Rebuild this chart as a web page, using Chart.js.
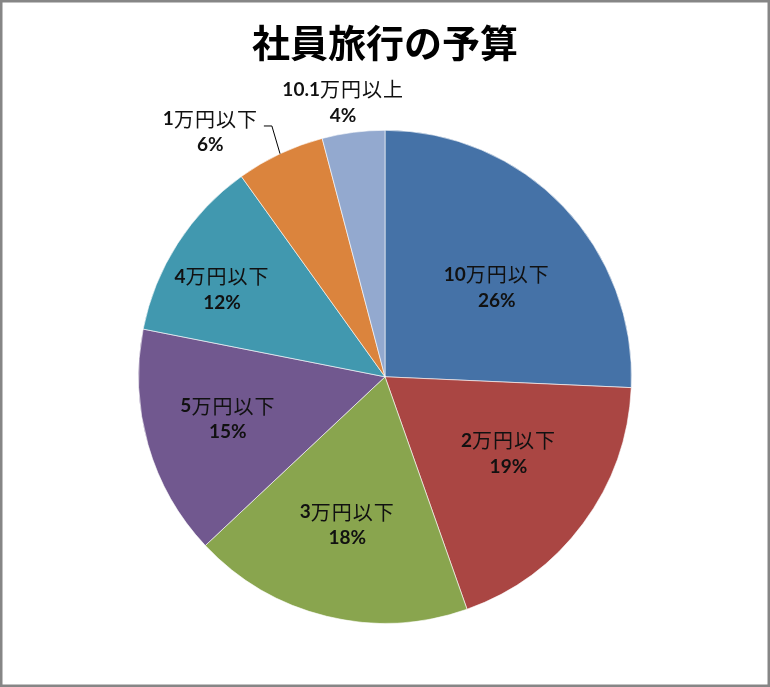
<!DOCTYPE html>
<html>
<head>
<meta charset="utf-8">
<title>社員旅行の予算</title>
<script src="https://cdn.jsdelivr.net/npm/chart.js@4"></script>
<style>
  html, body { margin: 0; padding: 0; background: #fff; }
  canvas { display: block; }
</style>
</head>
<body>
<canvas id="budget-chart" width="770" height="687"></canvas>
<script>
// Data (shares in %)
const chartTitle = '社員旅行の予算';
const categories = ['10万円以下', '2万円以下', '3万円以下', '5万円以下', '4万円以下', '1万円以下', '10.1万円以上'];
const budgetShares = [25.7, 18.9, 18.4, 15.1, 12.0, 5.8, 4.1];

// Styles (Excel 2007 palette)
const sliceColors = ['#4572A7', '#AA4643', '#89A54E', '#71588F', '#4198AF', '#DB843D', '#93A9CF'];
// Label placement: fraction of radius and angle shift (degrees) from slice middle
const labelRadius = [0.58, 0.59, 0.62, 0.66, 0.75, 1.22, 1.125];
const labelAngleShift = [5.2, -4.6, 0.6, 1.0, -4.6, -10.3, -1.3];
const labelLeader = [false, false, false, false, false, true, false];

const LATIN_FONT = 'bold 19px Lato, "Liberation Sans", sans-serif';
const CJK_FONT = '20px "Noto Sans CJK JP", sans-serif';
const CJK_GAP = 1;
const TEXT_COLOR = '#111111';

// Draw text mixing bold latin digits and regular CJK glyphs, centred on cx
function drawMixed(ctx, text, cx, cy) {
    const runs = text.match(/[\x00-\x7f]+|[^\x00-\x7f]+/g) || [];
    let total = 0;
    const parts = runs.map(r => {
        const ascii = /^[\x00-\x7f]/.test(r);
        ctx.font = ascii ? LATIN_FONT : CJK_FONT;
        let w = ctx.measureText(r).width;
        if (!ascii) w += r.length * CJK_GAP;
        total += w;
        return { r, ascii, w };
    });
    let x = cx - total / 2;
    ctx.textAlign = 'left';
    ctx.textBaseline = 'middle';
    parts.forEach(p => {
        ctx.font = p.ascii ? LATIN_FONT : CJK_FONT;
        if (p.ascii) {
            ctx.fillText(p.r, x, cy);
        } else {
            let cx2 = x;
            for (const ch of p.r) {
                ctx.fillText(ch, cx2, cy);
                cx2 += ctx.measureText(ch).width + CJK_GAP;
            }
        }
        x += p.w;
    });
    return total;
}

// Paint white background and the grey frame
const framePlugin = {
    id: 'frame',
    beforeDraw(chart) {
        const ctx = chart.ctx;
        ctx.save();
        ctx.fillStyle = '#ffffff';
        ctx.fillRect(0, 0, chart.width, chart.height);
        ctx.restore();
    },
    afterDraw(chart) {
        const ctx = chart.ctx;
        ctx.save();
        ctx.strokeStyle = '#868686';
        ctx.lineWidth = 2.5;
        ctx.strokeRect(1.25, 1.25, chart.width - 2.5, chart.height - 2.5);
        ctx.restore();
    }
};

// Data labels: category on first line, percentage on second
const sliceLabelPlugin = {
    id: 'sliceLabels',
    afterDatasetsDraw(chart) {
        const ctx = chart.ctx;
        const meta = chart.getDatasetMeta(0);
        const values = chart.data.datasets[0].data;
        const sum = values.reduce((a, b) => a + b, 0);
        ctx.save();
        ctx.fillStyle = TEXT_COLOR;
        meta.data.forEach((arc, i) => {
            const p = arc.getProps(['x', 'y', 'startAngle', 'endAngle', 'outerRadius'], true);
            const mid = (p.startAngle + p.endAngle) / 2;
            const ang = mid + labelAngleShift[i] * Math.PI / 180;
            const r = p.outerRadius * labelRadius[i];
            const lx = p.x + Math.cos(ang) * r;
            const ly = p.y + Math.sin(ang) * r;
            const pct = Math.round(values[i] / sum * 100) + '%';
            const w = drawMixed(ctx, chart.data.labels[i], lx, ly - 13);
            drawMixed(ctx, pct, lx, ly + 13);

            if (labelLeader[i]) {
                const ex = p.x + Math.cos(mid) * p.outerRadius;
                const ey = p.y + Math.sin(mid) * p.outerRadius;
                const endX = lx + w / 2 + 6;
                const endY = ly - 6;
                ctx.save();
                ctx.strokeStyle = '#000';
                ctx.lineWidth = 1;
                ctx.beginPath();
                ctx.moveTo(ex, ey);
                ctx.lineTo(endX + 8, endY);
                ctx.lineTo(endX, endY);
                ctx.stroke();
                ctx.restore();
            }
        });
        ctx.restore();
    }
};

const ctx = document.getElementById('budget-chart').getContext('2d');
new Chart(ctx, {
    type: 'pie',
    data: {
        labels: categories,
        datasets: [{
            data: budgetShares,
            backgroundColor: sliceColors,
            borderColor: 'rgba(255,255,255,0.6)',
            borderWidth: 1
        }]
    },
    options: {
        responsive: false,
        animation: false,
        devicePixelRatio: 1,
        layout: {
            padding: { top: 0, bottom: 63, left: 138, right: 138 }
        },
        plugins: {
            legend: { display: false },
            tooltip: { enabled: false },
            title: {
                display: true,
                text: chartTitle,
                color: '#000',
                font: { family: '"Noto Sans CJK JP", sans-serif', size: 38, weight: 'bold' },
                padding: { top: 20, bottom: 64 }
            }
        }
    },
    plugins: [framePlugin, sliceLabelPlugin]
});
</script>
</body>
</html>
